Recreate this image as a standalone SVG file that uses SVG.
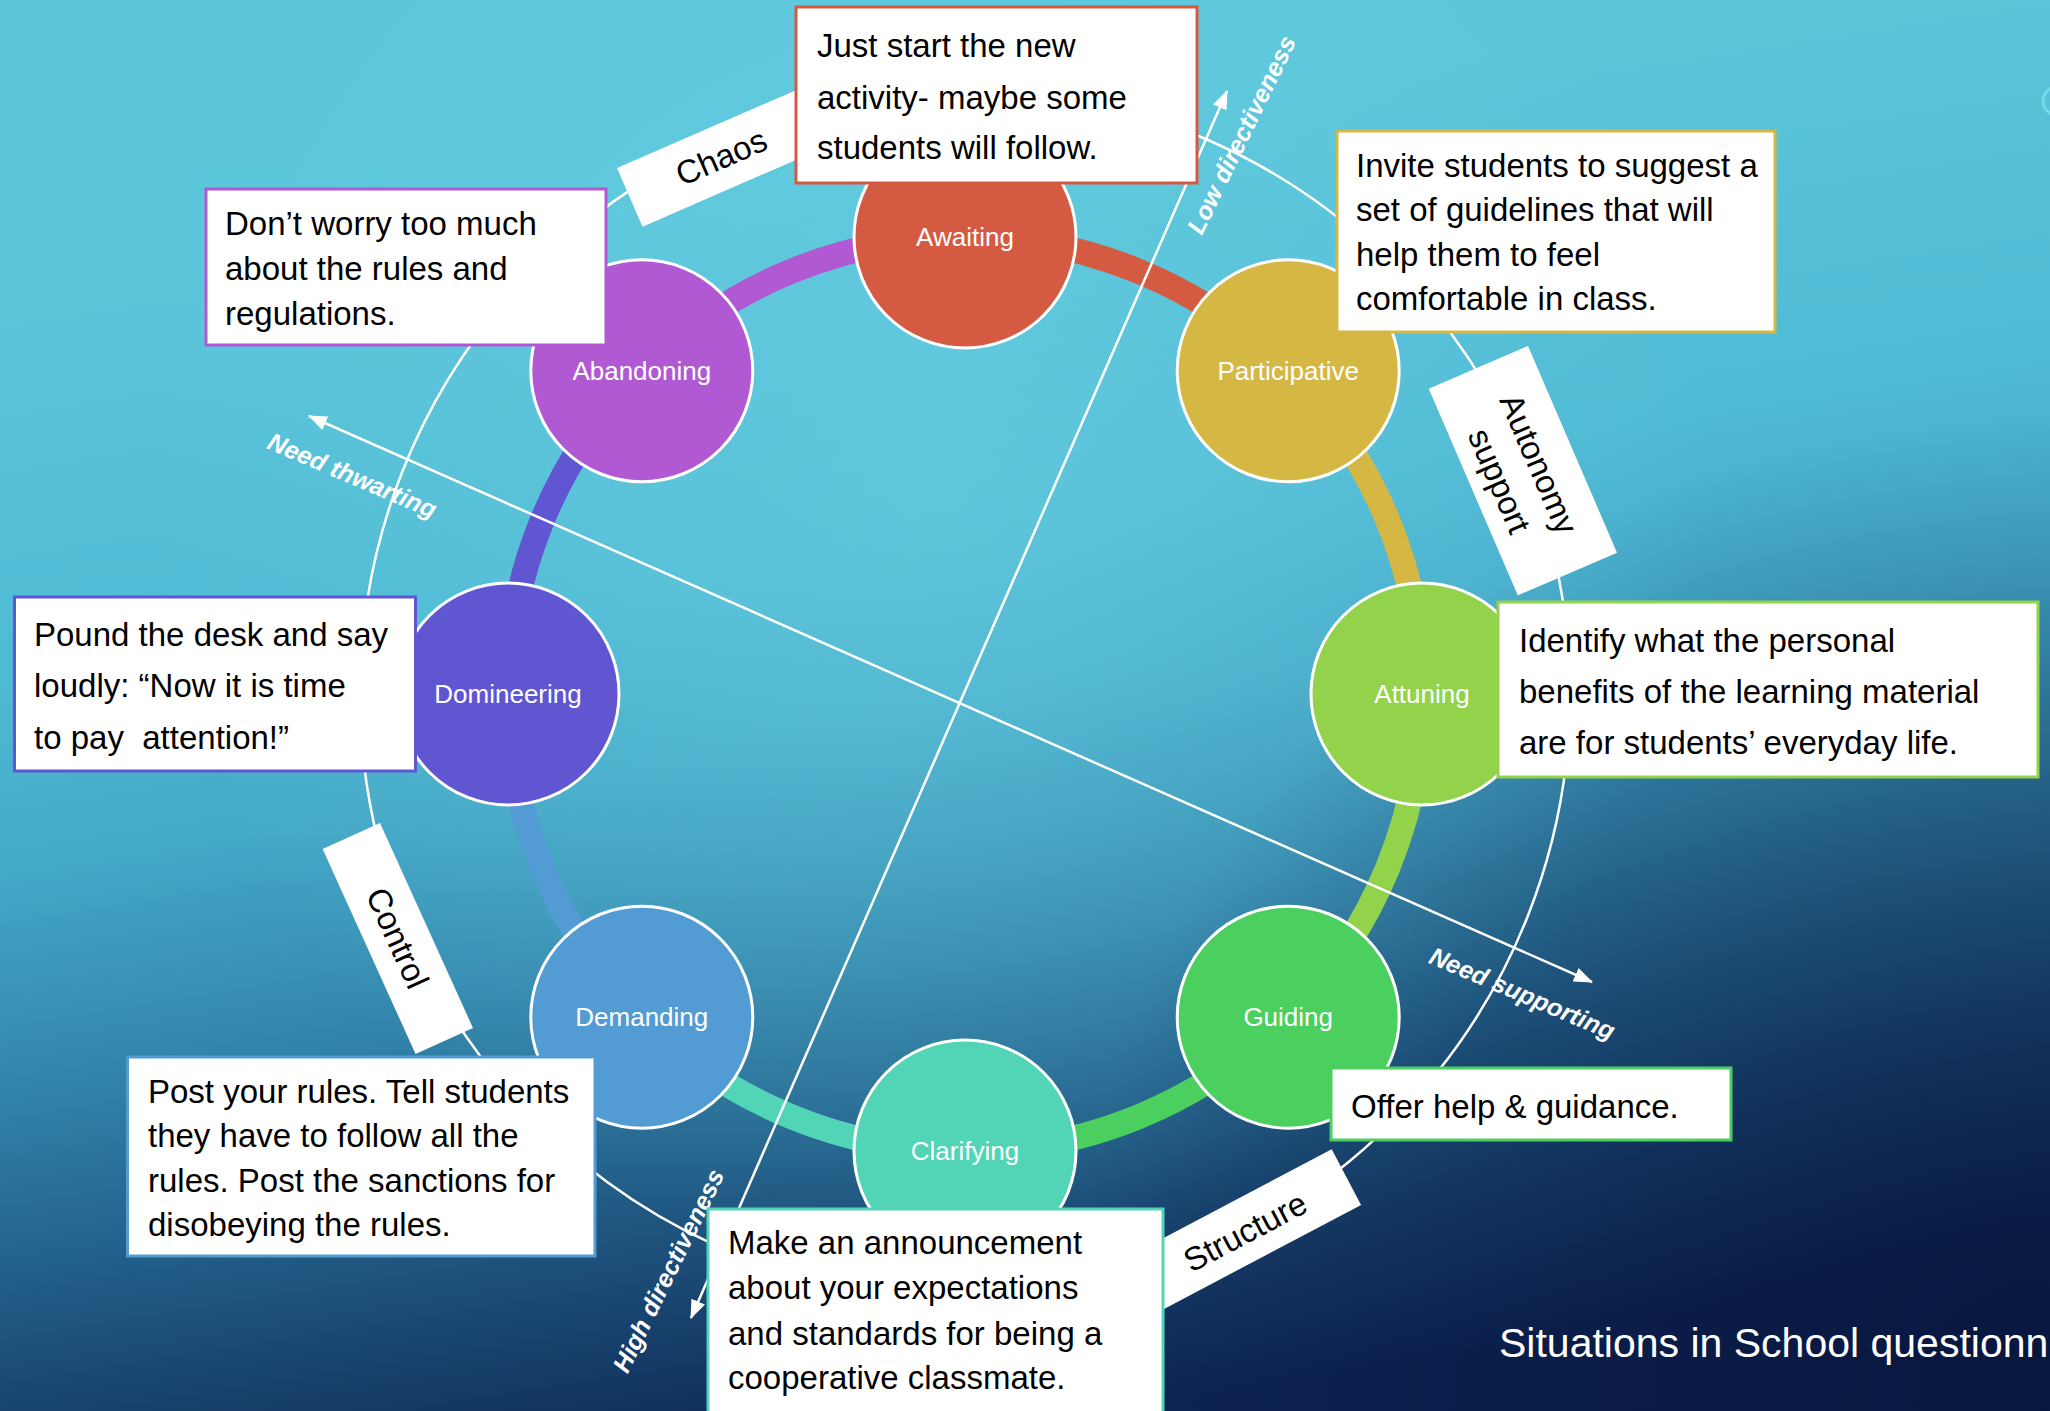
<svg xmlns="http://www.w3.org/2000/svg" width="2050" height="1411" viewBox="0 0 2050 1411">
<defs>
<linearGradient id="bg" gradientUnits="userSpaceOnUse" x1="900" y1="150" x2="1100" y2="1411">
<stop offset="0" stop-color="#5CC6DB"/>
<stop offset="0.3" stop-color="#4FBAD4"/>
<stop offset="0.45" stop-color="#44A8C7"/>
<stop offset="0.6" stop-color="#3488AE"/>
<stop offset="0.75" stop-color="#23628C"/>
<stop offset="0.88" stop-color="#17416C"/>
<stop offset="1" stop-color="#0D2453"/>
</linearGradient>
<radialGradient id="hi" gradientUnits="userSpaceOnUse" cx="930" cy="480" r="780">
<stop offset="0" stop-color="#6CD0E2" stop-opacity="0.55"/>
<stop offset="1" stop-color="#6CD0E2" stop-opacity="0"/>
</radialGradient>
<radialGradient id="dk" gradientUnits="userSpaceOnUse" cx="2050" cy="1411" r="1000">
<stop offset="0" stop-color="#061238" stop-opacity="0.75"/>
<stop offset="1" stop-color="#061238" stop-opacity="0"/>
</radialGradient>
<marker id="arr" viewBox="0 0 18 14" refX="17" refY="7" markerWidth="19" markerHeight="15" markerUnits="userSpaceOnUse" orient="auto-start-reverse">
<path d="M0,0 L18,7 L0,14 z" fill="#FFFFFF"/>
</marker>
<style>
.node circle{stroke:#FFFFFF;stroke-width:3}
.nl{font-family:"Liberation Sans",Arial,sans-serif;font-size:26px;fill:#FFFFFF;text-anchor:middle}
.box rect{fill:#FFFFFF;stroke-width:3}
.bt{font-family:"Liberation Sans",Arial,sans-serif;font-size:33px;fill:#000000}
.tag rect{fill:#FFFFFF}
.tt{font-family:"Liberation Sans",Arial,sans-serif;font-size:33px;fill:#000000;text-anchor:middle}
.ring{fill:none;stroke-width:25}
.ax{stroke:#FFFFFF;stroke-width:2.5;fill:none}
.al{font-family:"Liberation Sans",Arial,sans-serif;font-size:25px;font-weight:bold;font-style:italic;fill:#FFFFFF;text-anchor:middle}
</style>
</defs>
<rect width="2050" height="1411" fill="url(#bg)"/>
<rect width="2050" height="1411" fill="url(#hi)"/>
<rect width="2050" height="1411" fill="url(#dk)"/>
<circle cx="2057" cy="101" r="14" fill="none" stroke="#70DCEB" stroke-width="3"/>

<circle id="outer-ring" cx="965" cy="694" r="605" fill="none" stroke="#FFFFFF" stroke-width="2.5"/>

<g id="connectors">
<path class="ring" stroke="#B159D3" d="M641.8 370.8 A457 457 0 0 1 965 237"/>
<path class="ring" stroke="#D45B42" d="M965 237 A457 457 0 0 1 1288.2 370.8"/>
<path class="ring" stroke="#D5B843" d="M1288.2 370.8 A457 457 0 0 1 1422 694"/>
<path class="ring" stroke="#93D34B" d="M1422 694 A457 457 0 0 1 1288.2 1017.2"/>
<path class="ring" stroke="#4BCF5E" d="M1288.2 1017.2 A457 457 0 0 1 965 1151"/>
<path class="ring" stroke="#52D5B6" d="M965 1151 A457 457 0 0 1 641.8 1017.2"/>
<path class="ring" stroke="#529BD3" d="M641.8 1017.2 A457 457 0 0 1 508 694"/>
<path class="ring" stroke="#6156D2" d="M508 694 A457 457 0 0 1 641.8 370.8"/>
<line class="ax" x1="691" y1="1318" x2="1227" y2="91" marker-start="url(#arr)" marker-end="url(#arr)"/>
<line class="ax" x1="309" y1="416" x2="1592" y2="982" marker-start="url(#arr)" marker-end="url(#arr)"/>
</g>

<g id="axis-labels">
<text class="al" transform="translate(1242,135) rotate(-64)" y="8">Low directiveness</text>
<text class="al" transform="translate(669,1271) rotate(-64)" y="8">High directiveness</text>
<text class="al" transform="translate(352,476) rotate(23)" y="8">Need thwarting</text>
<text class="al" transform="translate(1522,994) rotate(23)" y="8">Need supporting</text>
</g>

<g id="node-awaiting" class="node"><circle cx="965" cy="237" r="111" fill="#D45B42"/><text class="nl" x="965" y="246">Awaiting</text></g>
<g id="node-participative" class="node"><circle cx="1288.2" cy="370.8" r="111" fill="#D5B843"/><text class="nl" x="1288.2" y="380">Participative</text></g>
<g id="node-attuning" class="node"><circle cx="1422" cy="694" r="111" fill="#93D34B"/><text class="nl" x="1422" y="703">Attuning</text></g>
<g id="node-guiding" class="node"><circle cx="1288.2" cy="1017.2" r="111" fill="#4BCF5E"/><text class="nl" x="1288.2" y="1026">Guiding</text></g>
<g id="node-clarifying" class="node"><circle cx="965" cy="1151" r="111" fill="#52D5B6"/><text class="nl" x="965" y="1160">Clarifying</text></g>
<g id="node-demanding" class="node"><circle cx="641.8" cy="1017.2" r="111" fill="#529BD3"/><text class="nl" x="641.8" y="1026">Demanding</text></g>
<g id="node-domineering" class="node"><circle cx="508" cy="694" r="111" fill="#6156D2"/><text class="nl" x="508" y="703">Domineering</text></g>
<g id="node-abandoning" class="node"><circle cx="641.8" cy="370.8" r="111" fill="#B159D3"/><text class="nl" x="641.8" y="380">Abandoning</text></g>

<g id="tag-chaos" class="tag" transform="translate(617,168) rotate(-23.5)"><rect x="0" y="0" width="220" height="64"/><text class="tt" x="100" y="43">Chaos</text></g>
<g id="tag-autonomy" class="tag" transform="translate(1528,346) rotate(66.7)"><rect x="0" y="0" width="225" height="108"/><text class="tt" x="112.5" y="48">Autonomy</text><text class="tt" x="112.5" y="91">support</text></g>
<g id="tag-control" class="tag" transform="translate(380,823) rotate(65.6)"><rect x="0" y="0" width="225" height="63"/><text class="tt" x="112" y="43">Control</text></g>
<g id="tag-structure" class="tag" transform="translate(1331.7,1149.3) rotate(-27.8)"><rect x="-235" y="0" width="235" height="63"/><text class="tt" x="-115" y="44">Structure</text></g>

<g id="box-just-start" class="box"><rect x="796" y="7" width="401" height="176" stroke="#D45B42"/>
<text class="bt" x="817" y="57">Just start the new</text><text class="bt" x="817" y="109">activity- maybe some</text><text class="bt" x="817" y="159">students will follow.</text></g>
<g id="box-dont-worry" class="box"><rect x="206" y="189" width="400" height="156" stroke="#B159D3"/>
<text class="bt" x="225" y="235">Don’t worry too much</text><text class="bt" x="225" y="280">about the rules and</text><text class="bt" x="225" y="325">regulations.</text></g>
<g id="box-invite" class="box"><rect x="1337" y="131" width="438" height="201" stroke="#D5B843"/>
<text class="bt" x="1356" y="177">Invite students to suggest a</text><text class="bt" x="1356" y="221">set of guidelines that will</text><text class="bt" x="1356" y="266">help them to feel</text><text class="bt" x="1356" y="310">comfortable in class.</text></g>
<g id="box-identify" class="box"><rect x="1498" y="602" width="540" height="175" stroke="#93D34B"/>
<text class="bt" x="1519" y="652">Identify what the personal</text><text class="bt" x="1519" y="703">benefits of the learning material</text><text class="bt" x="1519" y="754">are for students’ everyday life.</text></g>
<g id="box-offer" class="box"><rect x="1331" y="1068" width="400" height="72" stroke="#4BCF5E"/>
<text class="bt" x="1351" y="1118">Offer help &amp; guidance.</text></g>
<g id="box-make" class="box"><rect x="708" y="1209" width="455" height="215" stroke="#52D5B6"/>
<text class="bt" x="728" y="1254">Make an announcement</text><text class="bt" x="728" y="1299">about your expectations</text><text class="bt" x="728" y="1345">and standards for being a</text><text class="bt" x="728" y="1389">cooperative classmate.</text></g>
<g id="box-post" class="box"><rect x="127.5" y="1057" width="467.5" height="199" stroke="#529BD3"/>
<text class="bt" x="148" y="1103">Post your rules. Tell students</text><text class="bt" x="148" y="1147">they have to follow all the</text><text class="bt" x="148" y="1192">rules. Post the sanctions for</text><text class="bt" x="148" y="1236">disobeying the rules.</text></g>
<g id="box-pound" class="box"><rect x="14.5" y="597" width="401" height="174" stroke="#6156D2"/>
<text class="bt" x="34" y="646">Pound the desk and say</text><text class="bt" x="34" y="697">loudly: “Now it is time</text><text class="bt" x="34" y="749" xml:space="preserve">to pay  attention!”</text></g>

<text id="title" x="1499" y="1357" font-family="Liberation Sans, Arial, sans-serif" font-size="41" fill="#FFFFFF">Situations in School questionn</text>
</svg>
